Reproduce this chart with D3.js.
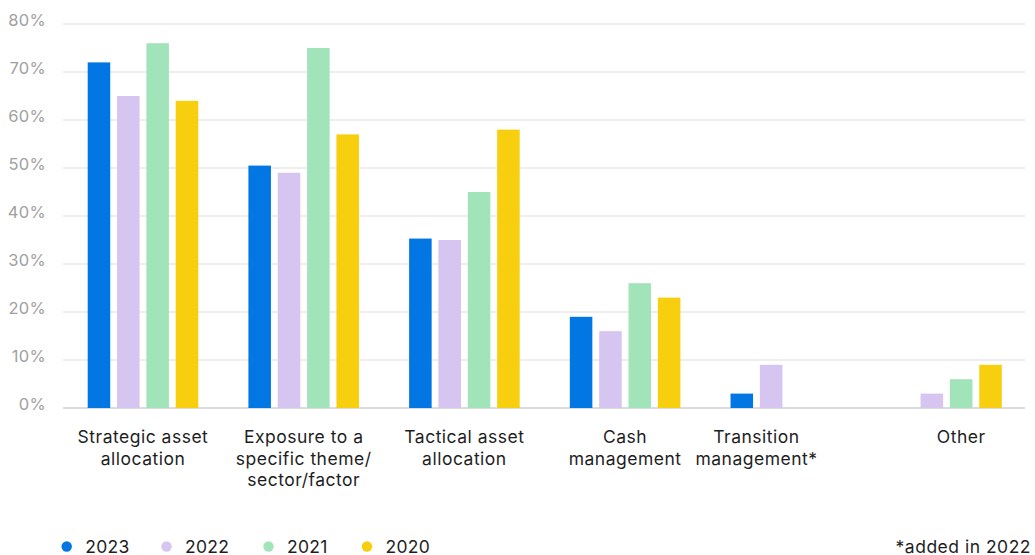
<!DOCTYPE html>
<html>
<head>
<meta charset="utf-8">
<script src="https://cdn.jsdelivr.net/npm/d3@7"></script>
<style>
  html, body { margin: 0; padding: 0; background: #fff; }
  svg { display: block; font-family: Inter, "Noto Sans", sans-serif; }
</style>
</head>
<body>
<svg id="chart" width="1035" height="555"></svg>
<script>
// Use of the product, by purpose and survey year (share of respondents, %)
const categories = [
  ["Strategic asset", "allocation"],
  ["Exposure to a", "specific theme/", "sector/factor"],
  ["Tactical asset", "allocation"],
  ["Cash", "management"],
  ["Transition", "management*"],
  ["Other"]
];
const years = ["2023", "2022", "2021", "2020"];
const values2023 = [72, 50.5, 35.3, 19, 3, null];
const values2022 = [65, 49, 35, 16, 9, 3];
const values2021 = [76, 75, 45, 26, null, 6];
const values2020 = [64, 57, 58, 23, null, 9];
const yTicks = [0, 10, 20, 30, 40, 50, 60, 70, 80];
const footnote = "*added in 2022";

const colors = ["#0276e3", "#d5c5f0", "#a1e4b9", "#f7cf0e"];
const seriesValues = [values2023, values2022, values2021, values2020];

const svg = d3.select("#chart");

const y = d3.scaleLinear().domain([0, 80]).range([408, 24]);

const x0 = d3.scaleBand()
  .domain(d3.range(categories.length))
  .range([87.7, 1001.8])
  .paddingInner(0.312)
  .paddingOuter(0);

const x1 = d3.scaleBand()
  .domain(years)
  .range([0, x0.bandwidth()])
  .paddingInner(0.232)
  .paddingOuter(0);

// Gridlines and percentage labels
const grid = svg.append("g");
grid.selectAll("line")
  .data(yTicks)
  .join("line")
  .attr("x1", 63).attr("x2", 1025)
  .attr("y1", d => y(d)).attr("y2", d => y(d))
  .attr("stroke", d => d === 0 ? "#dcdcdc" : "#e8e8e8")
  .attr("stroke-width", d => d === 0 ? 2 : 1.5);

grid.selectAll("text")
  .data(yTicks)
  .join("text")
  .attr("x", 46)
  .attr("y", d => y(d) + 2)
  .attr("text-anchor", "end")
  .attr("font-size", 16.5)
  .attr("letter-spacing", 0.3)
  .attr("fill", "#a0a0a0")
  .text(d => d + "%");

// Bars
const groups = svg.append("g").selectAll("g")
  .data(categories.map((c, i) => i))
  .join("g")
  .attr("transform", i => `translate(${x0(i)},0)`);

groups.selectAll("rect")
  .data(i => years.map((yr, s) => ({ yr, s, v: seriesValues[s][i] })).filter(d => d.v != null))
  .join("rect")
  .attr("x", d => x1(d.yr))
  .attr("width", x1.bandwidth())
  .attr("y", d => y(d.v))
  .attr("height", d => y(0) - y(d.v))
  .attr("fill", d => colors[d.s]);

// Category labels, centred under the bars that are present
const labels = svg.append("g");
categories.forEach((lines, i) => {
  const present = years.filter((yr, s) => seriesValues[s][i] != null);
  const left = x0(i) + x1(present[0]);
  const right = x0(i) + x1(present[present.length - 1]) + x1.bandwidth();
  const cx = (left + right) / 2;
  const t = labels.append("text")
    .attr("text-anchor", "middle")
    .attr("font-size", 17.5)
    .attr("letter-spacing", 0.5)
    .attr("fill", "#1e1e1e");
  lines.forEach((ln, k) => {
    t.append("tspan").attr("x", cx).attr("y", 443 + k * 21.7).text(ln);
  });
});

// Legend
const legend = svg.append("g");
const legendX = [66.7, 166.5, 268.5, 367];
years.forEach((yr, s) => {
  legend.append("circle")
    .attr("cx", legendX[s]).attr("cy", 546.5).attr("r", 5.2)
    .attr("fill", colors[s]);
  legend.append("text")
    .attr("x", legendX[s] + 18.5).attr("y", 552.5)
    .attr("font-size", 17.5)
    .attr("letter-spacing", 0.3)
    .attr("fill", "#1e1e1e")
    .text(yr);
});

svg.append("text")
  .attr("x", 1031).attr("y", 552.5)
  .attr("text-anchor", "end")
  .attr("font-size", 17.5)
  .attr("letter-spacing", 0.5)
  .attr("fill", "#1e1e1e")
  .text(footnote);
</script>
</body>
</html>
